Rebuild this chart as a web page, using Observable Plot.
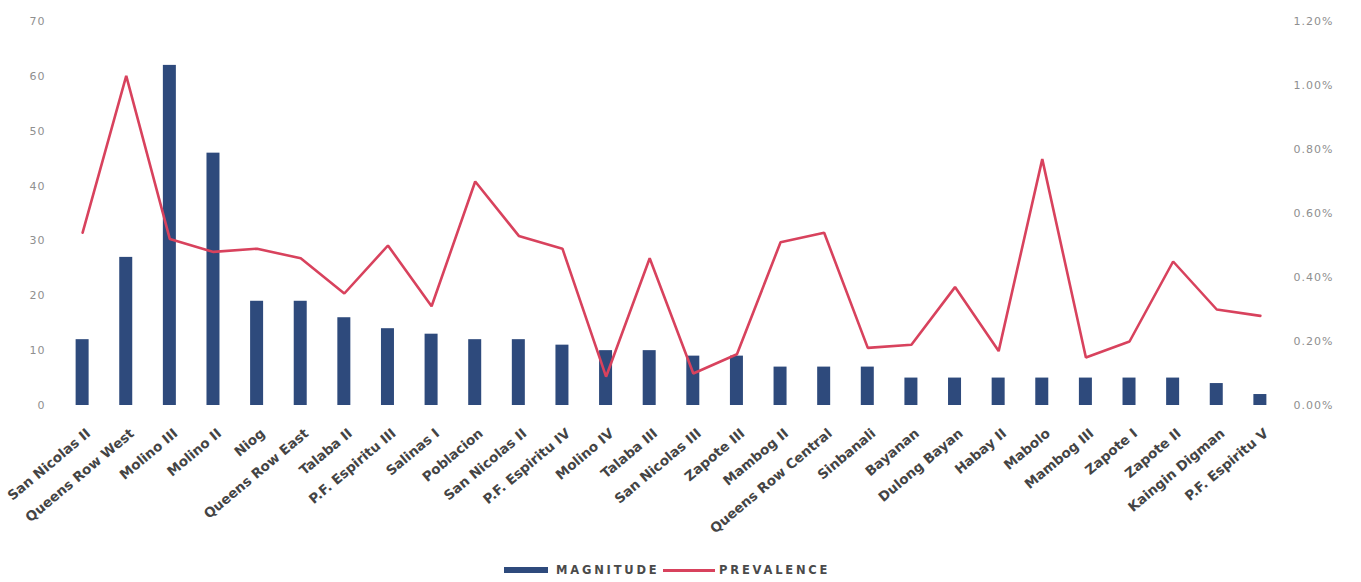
<!DOCTYPE html>
<html>
<head>
<meta charset="utf-8">
<script src="https://cdn.jsdelivr.net/npm/d3@7"></script>
<script src="https://cdn.jsdelivr.net/npm/@observablehq/plot@0.6"></script>
<style>
  html, body { margin: 0; padding: 0; background: #fff; }
  #chart { width: 1361px; }
  .legend {
    position: relative; height: 22px;
    font-family: "DejaVu Sans", sans-serif; font-size: 11.5px; font-weight: bold;
    color: #4a4a4a; letter-spacing: 2.8px;
  }
  .legend span { position: absolute; top: 0; line-height: 20px; }
  .legend .sw-bar { left: 504px; top: 7px; width: 44px; height: 6px; background: #2e4a7c; }
  .legend .sw-line { left: 663px; top: 9px; width: 52px; height: 2.5px; background: #d8425d; }
</style>
</head>
<body>
<div id="chart"></div>
<script>
// Barangays, ordered by number of cases
const barangays = [
  "San Nicolas II", "Queens Row West", "Molino III", "Molino II", "Niog",
  "Queens Row East", "Talaba II", "P.F. Espiritu III", "Salinas I", "Poblacion",
  "San Nicolas II ", "P.F. Espiritu IV", "Molino IV", "Talaba III", "San Nicolas III",
  "Zapote III", "Mambog II", "Queens Row Central", "Sinbanali", "Bayanan",
  "Dulong Bayan", "Habay II", "Mabolo", "Mambog III", "Zapote I",
  "Zapote II", "Kaingin Digman", "P.F. Espiritu V"
];
// Number of cases (left axis)
const magnitude = [12, 27, 62, 46, 19, 19, 16, 14, 13, 12, 12, 11, 10, 10, 9, 9, 7, 7, 7, 5, 5, 5, 5, 5, 5, 5, 4, 2];
// Prevalence in percent (right axis)
const prevalence = [0.54, 1.03, 0.52, 0.48, 0.49, 0.46, 0.35, 0.50, 0.31, 0.70,
  0.53, 0.49, 0.09, 0.46, 0.10, 0.16, 0.51, 0.54, 0.18, 0.19,
  0.37, 0.17, 0.77, 0.15, 0.20, 0.45, 0.30, 0.28];
// Axis ticks
const leftTicks = [0, 10, 20, 30, 40, 50, 60, 70];
const rightTicks = [0, 0.2, 0.4, 0.6, 0.8, 1.0, 1.2];

const leftMax = 70, rightMax = 1.2;
const toLeft = p => p * leftMax / rightMax; // map prevalence onto the magnitude scale

const rows = barangays.map((name, i) => ({name, magnitude: magnitude[i], prevalence: prevalence[i]}));

const barColor = "#2e4a7c";
const lineColor = "#d8425d";
const tickGray = "#8f8f8f";

const chart = Plot.plot({
  width: 1361,
  height: 560,
  marginTop: 21,
  marginBottom: 155,
  marginLeft: 45,
  marginRight: 64,
  style: {background: "#fff", fontFamily: "DejaVu Sans, sans-serif"},
  x: {domain: barangays, padding: 0.702, round: false, label: null},
  y: {domain: [0, leftMax], label: null},
  marks: [
    Plot.barY(rows, {x: "name", y: "magnitude", fill: barColor}),
    Plot.line(rows, {x: "name", y: d => toLeft(d.prevalence), stroke: lineColor, strokeWidth: 2.6, strokeLinejoin: "miter"}),
    Plot.axisY(leftTicks, {
      anchor: "left", tickSize: 0, tickPadding: 0, fontSize: 11, fill: tickGray, label: null
    }),
    Plot.axisY(rightTicks.map(toLeft), {
      anchor: "right", tickSize: 0, tickPadding: -4, fontSize: 11, fill: tickGray, label: null,
      tickFormat: v => (v * rightMax / leftMax).toFixed(2) + "%"
    }),
    Plot.axisX({
      anchor: "bottom", tickSize: 0, tickPadding: 26, tickRotate: -40, dx: 6,
      fontSize: 13.5, fontWeight: "bold", fill: "#444444", label: null,
      tickFormat: d => d.trim()
    })
  ]
});

// slightly wider tick text
d3.select(chart).selectAll("[aria-label='y-axis tick label'] text").attr("letter-spacing", "1px");

document.getElementById("chart").append(chart);

const legend = document.createElement("div");
legend.className = "legend";
legend.innerHTML = '<span class="sw-bar"></span><span style="left:556px">MAGNITUDE</span>' +
  '<span class="sw-line"></span><span style="left:719px">PREVALENCE</span>';
document.getElementById("chart").append(legend);
</script>
</body>
</html>
